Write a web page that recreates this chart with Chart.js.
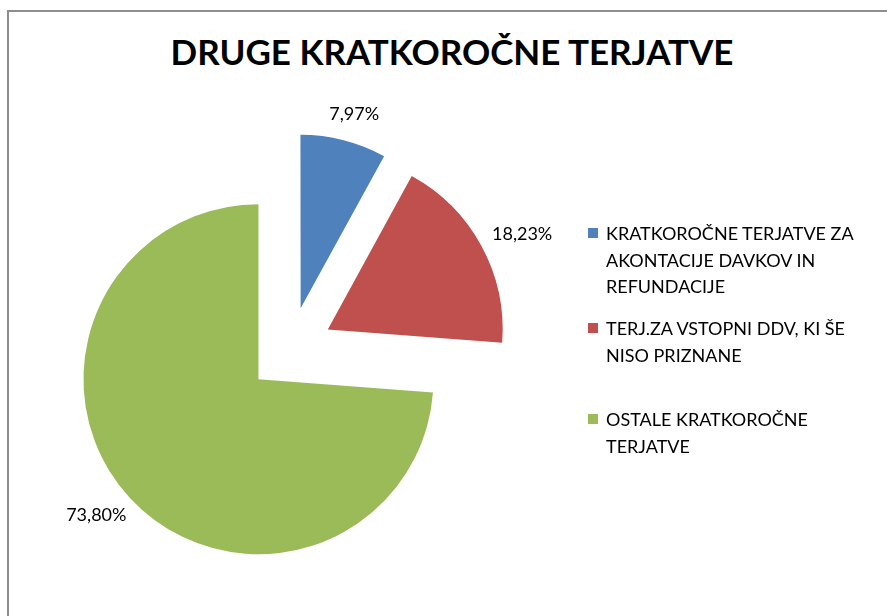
<!DOCTYPE html>
<html>
<head>
<meta charset="utf-8">
<script src="https://cdn.jsdelivr.net/npm/chart.js@4/dist/chart.umd.min.js"></script>
<style>
    body { margin: 0; background: #fff; }
    #wrap { position: relative; width: 887px; height: 616px; overflow: hidden; font-family: Lato, "Open Sans", sans-serif; }
    #frame { position: absolute; left: 7px; top: 10px; width: 900px; height: 700px; border: 2px solid #8e8e8e; box-sizing: border-box; }
    #title { position: absolute; left: 0; top: 29px; width: 904px; text-align: center; font-weight: bold; font-size: 35px; color: #000; line-height: 44px; }
    #pieCanvas { position: absolute; left: 0; top: 0; }
    .legendItem { position: absolute; left: 588px; width: 290px; }
    .legendBox { position: absolute; left: 0; top: 8px; width: 10px; height: 10px; }
    .legendText { margin-left: 18px; font-size: 18px; line-height: 26.5px; color: #000; }
</style>
</head>
<body>
<div id="wrap">
    <div id="frame"></div>
    <div id="title">DRUGE KRATKOROČNE TERJATVE</div>
    <canvas id="pieCanvas" width="887" height="616"></canvas>
    <div id="legend"></div>
</div>
<script>
const categories = [
    'KRATKOROČNE TERJATVE ZA AKONTACIJE DAVKOV IN REFUNDACIJE',
    'TERJ.ZA VSTOPNI DDV, KI ŠE NISO PRIZNANE',
    'OSTALE KRATKOROČNE TERJATVE'
];
const shares = [7.97, 18.23, 73.80];
const shareLabels = ['7,97%', '18,23%', '73,80%'];
const sliceColors = ['#4f81bd', '#c0504d', '#9bbb59'];

const sliceRadius = 175;
const explode = 172; // chart.js moves an arc by offset / 4
const legendTops = [220, 315, 406];

// legend on the right
const legendEl = document.getElementById('legend');
categories.forEach((name, i) => {
    const item = document.createElement('div');
    item.className = 'legendItem';
    item.style.top = legendTops[i] + 'px';
    const box = document.createElement('div');
    box.className = 'legendBox';
    box.style.background = sliceColors[i];
    const text = document.createElement('div');
    text.className = 'legendText';
    text.textContent = name;
    item.appendChild(box);
    item.appendChild(text);
    legendEl.appendChild(item);
});

// chart.js grows and narrows exploded arcs a bit; undo that so the slices
// keep one radius and straight edges through their own corner
const evenRadius = {
    id: 'evenRadius',
    afterDatasetsUpdate(chart) {
        chart.getDatasetMeta(0).data.forEach(arc => {
            const circ = arc.endAngle - arc.startAngle;
            const fix = 1 - Math.sin(Math.min(Math.PI, circ));
            const grow = (explode / 4) * fix;
            arc.outerRadius = sliceRadius - grow;
            const widen = grow / Math.PI / sliceRadius / 2;
            arc.startAngle -= widen;
            arc.endAngle += widen;
            arc.circumference = arc.endAngle - arc.startAngle;
        });
    }
};

const outsideLabels = {
    id: 'outsideLabels',
    afterDatasetsDraw(chart) {
        const ctx = chart.ctx;
        ctx.save();
        ctx.font = '18px Lato, "Open Sans", sans-serif';
        ctx.fillStyle = '#000';
        ctx.textAlign = 'center';
        ctx.textBaseline = 'middle';
        chart.getDatasetMeta(0).data.forEach((arc, i) => {
            const mid = (arc.startAngle + arc.endAngle) / 2;
            const cx = arc.x + Math.cos(mid) * explode / 4;
            const cy = arc.y + Math.sin(mid) * explode / 4;
            const r = sliceRadius + 16;
            const w = ctx.measureText(shareLabels[i]).width;
            const x = cx + Math.cos(mid) * (r + w / 2);
            const y = cy + Math.sin(mid) * (r + 9);
            ctx.fillText(shareLabels[i], x, y);
        });
        ctx.restore();
    }
};

const pieChart = new Chart(document.getElementById('pieCanvas'), {
    type: 'pie',
    data: {
        labels: categories,
        datasets: [{
            data: shares,
            backgroundColor: sliceColors,
            borderWidth: 0,
            offset: explode,
            radius: sliceRadius
        }]
    },
    options: {
        responsive: false,
        animation: false,
        layout: { padding: { left: 0, right: 307, top: 84, bottom: 0 } },
        plugins: {
            legend: { display: false },
            tooltip: { enabled: false },
            title: { display: false }
        }
    },
    plugins: [evenRadius, outsideLabels]
});
</script>
</body>
</html>
